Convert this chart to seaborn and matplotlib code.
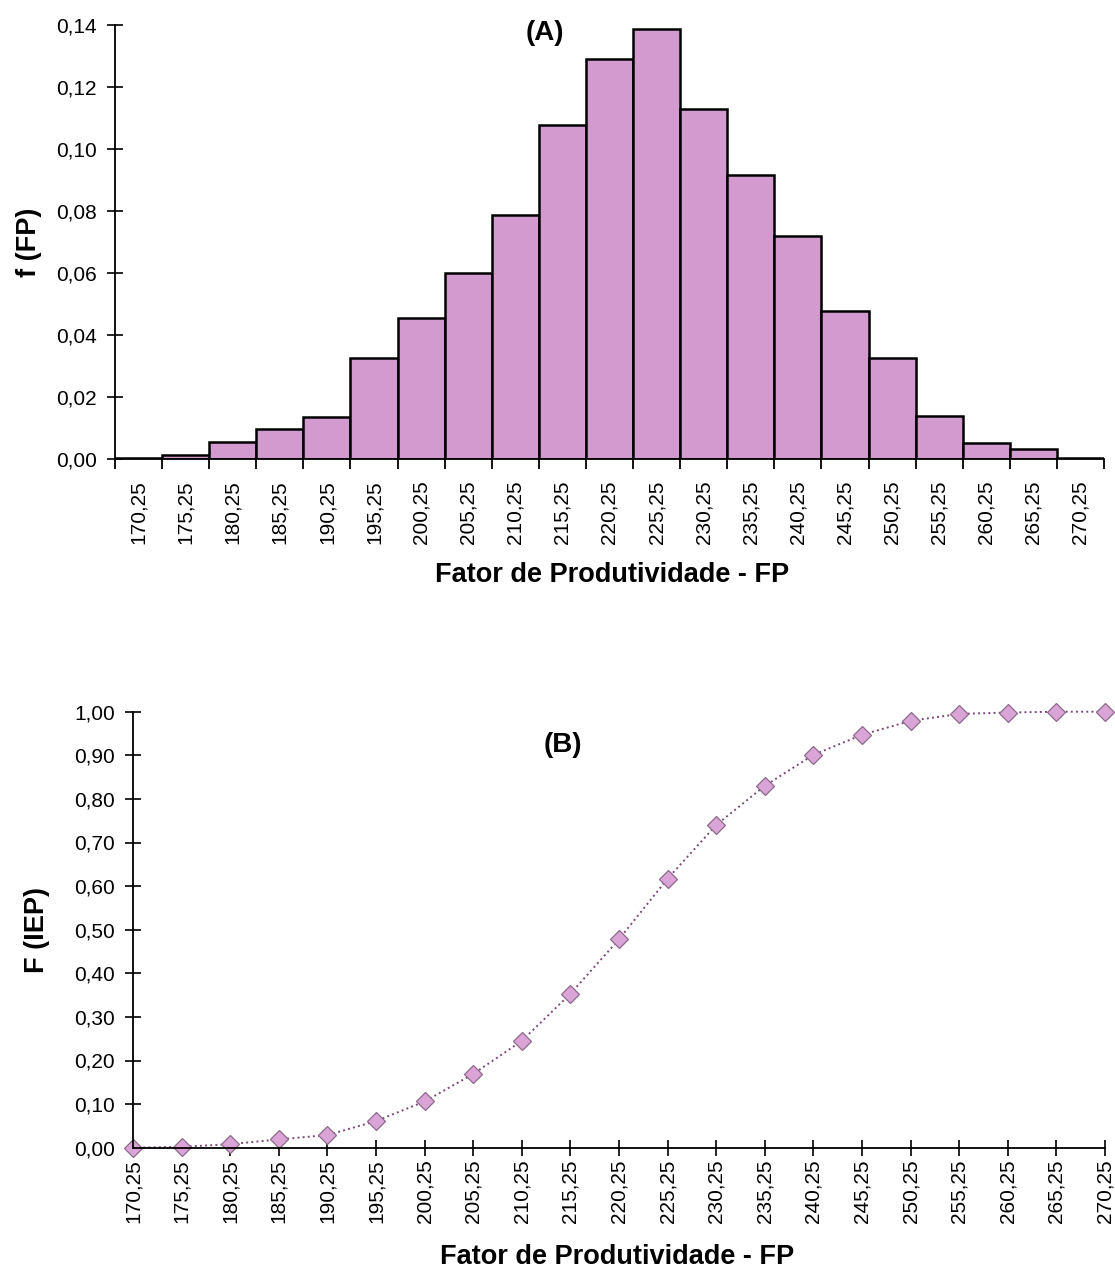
import numpy as np
import pandas as pd
import matplotlib
matplotlib.use("Agg")
import matplotlib.pyplot as plt
import seaborn as sns

# ---- data ----
fp_labels = ["170,25", "175,25", "180,25", "185,25", "190,25", "195,25", "200,25",
             "205,25", "210,25", "215,25", "220,25", "225,25", "230,25", "235,25",
             "240,25", "245,25", "250,25", "255,25", "260,25", "265,25", "270,25"]
fp_values = [170.25, 175.25, 180.25, 185.25, 190.25, 195.25, 200.25, 205.25, 210.25,
             215.25, 220.25, 225.25, 230.25, 235.25, 240.25, 245.25, 250.25, 255.25,
             260.25, 265.25, 270.25]
f_fp = [0.0005, 0.0014, 0.0055, 0.0097, 0.0136, 0.0328, 0.0455, 0.0600, 0.0788,
        0.1078, 0.1290, 0.1387, 0.1128, 0.0916, 0.0720, 0.0478, 0.0328, 0.0141,
        0.0052, 0.0032, 0.0005]
F_iep = [0.000, 0.002, 0.008, 0.019, 0.029, 0.061, 0.106, 0.169, 0.245, 0.353,
         0.478, 0.617, 0.740, 0.830, 0.901, 0.947, 0.979, 0.995, 0.998, 1.000, 1.000]
yticks_top = [0.00, 0.02, 0.04, 0.06, 0.08, 0.10, 0.12, 0.14]
yticks_bot = [0.0, 0.1, 0.2, 0.3, 0.4, 0.5, 0.6, 0.7, 0.8, 0.9, 1.0]

df = pd.DataFrame({"FP": fp_labels, "FPv": fp_values, "f": f_fp, "F": F_iep})

sns.set_theme(style="white")
plt.rcParams["font.family"] = ["Liberation Sans", "DejaVu Sans"]
plt.rcParams.update({"text.color": "black", "axes.labelcolor": "black",
                     "xtick.color": "black", "ytick.color": "black"})

W, H = 1115, 1270
fig = plt.figure(figsize=(W / 100, H / 100), dpi=100)

BAR = "#d29ace"
MARK = "#dba4d6"
LINE = "#7a4a78"
TICK_FS = 15
LABEL_FS = 19.5

def fmt(v):
    return f"{v:.2f}".replace(".", ",")

# ---------- (A) histogram ----------
ax1 = fig.add_axes([115 / W, 1 - 459.3 / H, 989 / W, (459.3 - 25) / H])
sns.barplot(data=df, x="FP", y="f", order=fp_labels, width=1.0, color=BAR,
            saturation=1, edgecolor="black", linewidth=1.8, ax=ax1)
ax1.set_xlim(-0.5, len(fp_labels) - 0.5)
ax1.set_ylim(0, 0.14)
ax1.set_yticks(yticks_top)
ax1.set_yticklabels([fmt(v) for v in yticks_top])
ax1.set_xticks(np.arange(len(fp_labels) + 1) - 0.5)
ax1.set_xticklabels([])
ax1.set_xticks(np.arange(len(fp_labels)), minor=True)
ax1.set_xticklabels(fp_labels, minor=True, rotation=90, fontsize=TICK_FS)
ax1.tick_params(axis="x", which="major", direction="out", length=7, width=1.3,
                color="black", bottom=True)
ax1.tick_params(axis="x", which="minor", length=0, pad=15, bottom=True)
ax1.tick_params(axis="y", direction="inout", length=12, width=1.2, color="black",
                labelsize=TICK_FS, pad=7, left=True)
for s in ["top", "right"]:
    ax1.spines[s].set_visible(False)
for s in ["left", "bottom"]:
    ax1.spines[s].set_color("black")
    ax1.spines[s].set_linewidth(1.3)
ax1.set_xlabel("Fator de Produtividade - FP", fontsize=LABEL_FS, fontweight="bold")
ax1.xaxis.set_label_coords(0.503, -0.236)
ax1.set_ylabel("f (FP)", fontsize=LABEL_FS, fontweight="bold")
ax1.yaxis.set_label_coords(-0.074, 0.5)
ax1.text(0.435, 0.982, "(A)", transform=ax1.transAxes, ha="center", va="center",
         fontsize=20, fontweight="bold")

# ---------- (B) cumulative ----------
ax2 = fig.add_axes([133 / W, 1 - 1147.7 / H, 972 / W, 436 / H])
sns.lineplot(data=df, x="FPv", y="F", ax=ax2, color=LINE, linestyle=":",
             linewidth=1.4, marker="D", markersize=9, markerfacecolor=MARK,
             markeredgecolor="#8c6a8a", markeredgewidth=0.9, clip_on=False)
ax2.set_xlim(fp_values[0], fp_values[-1])
ax2.set_ylim(0, 1.0)
ax2.set_xticks(fp_values)
ax2.set_xticklabels(fp_labels, rotation=90, fontsize=TICK_FS)
ax2.set_yticks(yticks_bot)
ax2.set_yticklabels([fmt(v) for v in yticks_bot])
ax2.tick_params(axis="x", direction="inout", length=11, width=1.2, color="black",
                pad=3, bottom=True)
ax2.tick_params(axis="y", direction="inout", length=12, width=1.2, color="black",
                labelsize=TICK_FS, pad=7, left=True)
for s in ["top", "right"]:
    ax2.spines[s].set_visible(False)
for s in ["left", "bottom"]:
    ax2.spines[s].set_color("black")
    ax2.spines[s].set_linewidth(1.3)
ax2.set_xlabel("Fator de Produtividade - FP", fontsize=LABEL_FS, fontweight="bold")
ax2.xaxis.set_label_coords(0.498, -0.221)
ax2.set_ylabel("F (IEP)", fontsize=LABEL_FS, fontweight="bold")
ax2.yaxis.set_label_coords(-0.085, 0.5)
ax2.text(0.442, 0.924, "(B)", transform=ax2.transAxes, ha="center", va="center",
         fontsize=20, fontweight="bold")

fig.savefig("out.png", dpi=100)
